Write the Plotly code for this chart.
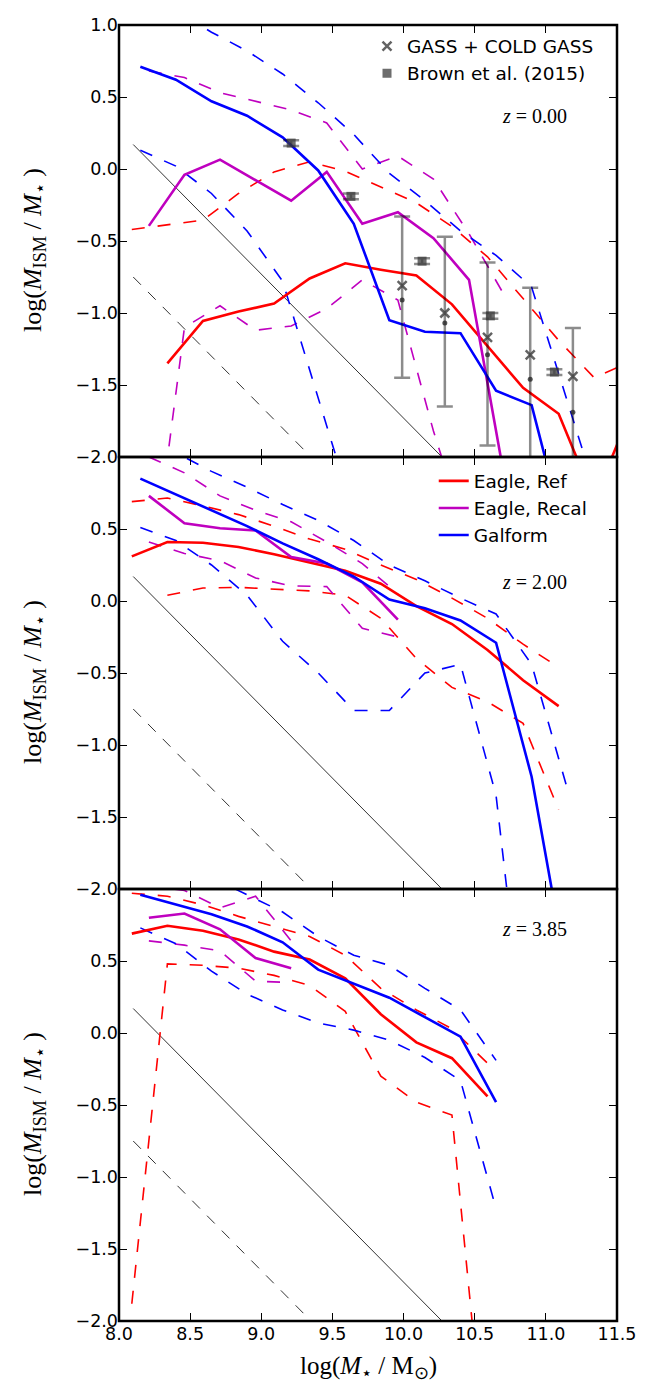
import plotly.graph_objects as go
from plotly.subplots import make_subplots

RED = "#ff0000"
MAG = "#bf00bf"
BLUE = "#0000ff"

# ---------------- z = 0.00 ----------------
ref_x0 = [8.34, 8.59, 8.84, 9.09, 9.34, 9.59, 9.84, 10.09, 10.34, 10.59, 10.84, 11.09, 11.34, 11.59]
ref_med0 = [-1.35, -1.055, -0.99, -0.935, -0.76, -0.655, -0.70, -0.74, -0.94, -1.23, -1.52, -1.70, -2.3, -1.7]
ref_pc_x0 = [8.09, 8.34, 8.59, 8.84, 9.09, 9.34, 9.59, 9.84, 10.09, 10.34, 10.59, 10.84, 11.09, 11.34, 11.59]
ref_hi0 = [-0.42, -0.385, -0.355, -0.17, -0.02, 0.05, -0.015, -0.125, -0.235, -0.40, -0.61, -0.90, -1.19, -1.45, -1.34]

rec_x0 = [8.21, 8.46, 8.71, 8.96, 9.21, 9.46, 9.71, 9.96, 10.21, 10.46, 10.71]
rec_med0 = [-0.395, -0.04, 0.065, -0.08, -0.22, -0.02, -0.38, -0.30, -0.48, -0.77, -2.15]
rec_hi0 = [0.68, 0.635, 0.53, 0.47, 0.41, 0.32, 0.0, 0.09, -0.07, -0.45, -0.88]
rec_lo0 = [-3.0, -1.1, -0.95, -1.12, -1.09, -0.97, -0.77, -0.91, -1.82, -2.6, -3.2]

gal_x0 = [8.15, 8.4, 8.65, 8.9, 9.15, 9.4, 9.65, 9.9, 10.15, 10.4, 10.65, 10.9, 11.15]
gal_med0 = [0.71, 0.62, 0.47, 0.37, 0.22, -0.01, -0.38, -1.05, -1.13, -1.14, -1.54, -1.64, -2.6]
gal_hi_x0 = [8.15, 8.4, 8.65, 8.9, 9.15, 9.4, 9.65, 9.9, 10.15, 10.4, 10.65, 10.9, 11.15, 11.4]
gal_hi0 = [1.25, 1.1, 0.95, 0.82, 0.66, 0.46, 0.24, -0.03, -0.22, -0.43, -0.60, -0.82, -1.6, -2.4]
gal_lo_x0 = [8.15, 8.4, 8.65, 8.9, 9.15, 9.4, 9.65]
gal_lo0 = [0.13, 0.02, -0.17, -0.43, -0.78, -1.6, -2.4]

# observations (z = 0)
gass_x = [9.99, 10.29, 10.59, 10.89, 11.19]
gass_mean = [-0.81, -1.00, -1.17, -1.29, -1.44]
gass_median = [-0.91, -1.07, -1.29, -1.46, -1.69]
gass_top = [-0.33, -0.47, -0.65, -0.825, -1.105]
gass_bottom = [-1.45, -1.65, -1.92, -2.6, -2.8]
brown_x = [9.21, 9.63, 10.13, 10.61, 11.06]
brown_y = [0.18, -0.19, -0.64, -1.02, -1.41]
brown_err = [0.02, 0.02, 0.02, 0.02, 0.02]

# ---------------- z = 2.00 ----------------
ref_x2 = [8.09, 8.34, 8.59, 8.84, 9.09, 9.34, 9.59, 9.84, 10.09, 10.34, 10.59, 10.84, 11.09]
ref_med2 = [0.31, 0.41, 0.405, 0.375, 0.325, 0.27, 0.21, 0.12, -0.035, -0.16, -0.34, -0.55, -0.73]
ref_hi2 = [0.69, 0.715, 0.66, 0.60, 0.52, 0.43, 0.36, 0.25, 0.15, 0.02, -0.12, -0.30, -0.46]
ref_lo_x2 = [8.34, 8.59, 8.84, 9.09, 9.34, 9.59, 9.84, 10.09, 10.34, 10.59, 10.84, 11.09]
ref_lo2 = [0.04, 0.09, 0.095, 0.085, 0.07, 0.04, -0.12, -0.40, -0.60, -0.70, -0.85, -1.45]

rec_x2 = [8.21, 8.46, 8.71, 8.96, 9.21, 9.46, 9.71, 9.96]
rec_med2 = [0.73, 0.54, 0.505, 0.49, 0.305, 0.26, 0.13, -0.13]
rec_hi2 = [1.0, 0.89, 0.73, 0.63, 0.55, 0.41, 0.26, 0.05]
rec_lo2 = [0.41, 0.33, 0.28, 0.16, 0.105, 0.10, -0.19, -0.25]

gal_x2 = [8.15, 8.4, 8.65, 8.9, 9.15, 9.4, 9.65, 9.9, 10.15, 10.4, 10.65, 10.9, 11.15]
gal_med2 = [0.85, 0.74, 0.63, 0.52, 0.40, 0.29, 0.17, 0.01, -0.05, -0.135, -0.29, -1.22, -2.6]
gal_hi2 = [1.15, 1.03, 0.90, 0.79, 0.67, 0.56, 0.42, 0.25, 0.14, 0.02, -0.09, -0.44, -1.30]
gal_lo_x2 = [8.15, 8.4, 8.65, 8.9, 9.15, 9.4, 9.65, 9.9, 10.15, 10.4, 10.65, 10.9]
gal_lo2 = [0.51, 0.42, 0.25, 0.04, -0.28, -0.50, -0.76, -0.76, -0.50, -0.44, -1.35, -3.5]

# ---------------- z = 3.85 ----------------
ref_x4 = [8.09, 8.34, 8.59, 8.84, 9.09, 9.34, 9.59, 9.84, 10.09, 10.34, 10.59]
ref_med4 = [0.69, 0.745, 0.71, 0.65, 0.565, 0.51, 0.38, 0.13, -0.065, -0.175, -0.44]
ref_hi4 = [0.97, 0.95, 0.89, 0.81, 0.74, 0.67, 0.54, 0.31, 0.16, 0.03, -0.21]
ref_lo4 = [-1.88, 0.48, 0.47, 0.45, 0.40, 0.33, 0.15, -0.30, -0.48, -0.57, -3.1]

rec_x4 = [8.21, 8.46, 8.71, 8.96, 9.21]
rec_med4 = [0.80, 0.83, 0.72, 0.52, 0.45]
rec_hi4 = [1.02, 0.99, 0.87, 0.95, 0.64]
rec_lo4 = [0.64, 0.61, 0.57, 0.36, 0.35]

gal_x4 = [8.15, 8.4, 8.65, 8.9, 9.15, 9.4, 9.65, 9.9, 10.15, 10.4, 10.65]
gal_med4 = [0.96, 0.895, 0.825, 0.74, 0.63, 0.44, 0.34, 0.245, 0.11, -0.025, -0.48]
gal_hi_x4 = [8.65, 8.9, 9.15, 9.4, 9.65, 9.9, 10.15, 10.4, 10.65]
gal_hi4 = [1.08, 0.96, 0.84, 0.67, 0.54, 0.47, 0.31, 0.16, -0.19]
gal_lo4 = [0.73, 0.62, 0.43, 0.27, 0.16, 0.07, 0.02, -0.05, -0.17, -0.33, -1.22]

# resolution-limit guide lines (same in every panel)
guide_x = [8.1, 10.4]
guide_solid = [0.17, -2.13]
guide_dash_x = [8.1, 9.3]
guide_dash = [-0.75, -1.95]

z_labels = ["0.00", "2.00", "3.85"]
z_label_y = [0.37, 0.13, 0.72]

fig = make_subplots(rows=3, cols=1, shared_xaxes=True, vertical_spacing=0)

DASH = "13px,13px"


def line(x, y, row, color, width, dash="solid", name=None, legend=None):
    fig.add_trace(go.Scatter(
        x=x, y=y, mode="lines",
        line=dict(color=color, width=width, dash=dash),
        name=name, showlegend=name is not None,
        legend=legend, legendgroup=name, hoverinfo="skip"), row=row, col=1)


panels = [
    dict(ref=(ref_x0, ref_med0), ref_hi=(ref_pc_x0, ref_hi0), ref_lo=None,
         rec=(rec_x0, rec_med0), rec_hi=(rec_x0, rec_hi0), rec_lo=(rec_x0, rec_lo0),
         gal=(gal_x0, gal_med0), gal_hi=(gal_hi_x0, gal_hi0), gal_lo=(gal_lo_x0, gal_lo0)),
    dict(ref=(ref_x2, ref_med2), ref_hi=(ref_x2, ref_hi2), ref_lo=(ref_lo_x2, ref_lo2),
         rec=(rec_x2, rec_med2), rec_hi=(rec_x2, rec_hi2), rec_lo=(rec_x2, rec_lo2),
         gal=(gal_x2, gal_med2), gal_hi=(gal_x2, gal_hi2), gal_lo=(gal_lo_x2, gal_lo2)),
    dict(ref=(ref_x4, ref_med4), ref_hi=(ref_x4, ref_hi4), ref_lo=(ref_x4, ref_lo4),
         rec=(rec_x4, rec_med4), rec_hi=(rec_x4, rec_hi4), rec_lo=(rec_x4, rec_lo4),
         gal=(gal_x4, gal_med4), gal_hi=(gal_hi_x4, gal_hi4), gal_lo=(gal_x4, gal_lo4)),
]

for i, p in enumerate(panels):
    row = i + 1
    line(guide_x, guide_solid, row, "#333333", 1)
    line(guide_dash_x, guide_dash, row, "#333333", 1, "11px,10px")
    for key, col in (("ref", RED), ("rec", MAG), ("gal", BLUE)):
        for k in (key + "_hi", key + "_lo"):
            if p[k] is not None:
                line(p[k][0], p[k][1], row, col, 1.6, DASH)
    names = {"ref": "Eagle, Ref", "rec": "Eagle, Recal", "gal": "Galform"}
    for key, col in (("ref", RED), ("rec", MAG), ("gal", BLUE)):
        line(p[key][0], p[key][1], row, col, 2.6,
             name=names[key] if row == 2 else None, legend="legend2")

# observations in top panel
fig.add_trace(go.Scatter(
    x=gass_x, y=gass_mean, mode="markers", name="GASS + COLD GASS",
    legend="legend", legendgroup="gass",
    marker=dict(symbol="x-thin", size=9, color="rgba(60,60,60,0.8)",
                line=dict(width=2.5, color="rgba(60,60,60,0.8)")),
    error_y=dict(type="data", symmetric=False,
                 array=[t - m for t, m in zip(gass_top, gass_mean)],
                 arrayminus=[m - b for m, b in zip(gass_mean, gass_bottom)],
                 color="rgba(0,0,0,0.45)", thickness=2.5, width=8),
    hoverinfo="skip"), row=1, col=1)
fig.add_trace(go.Scatter(
    x=gass_x, y=gass_median, mode="markers", showlegend=False,
    marker=dict(symbol="circle", size=5, color="rgba(40,40,40,0.8)"),
    hoverinfo="skip"), row=1, col=1)
fig.add_trace(go.Scatter(
    x=brown_x, y=brown_y, mode="markers", name="Brown et al. (2015)",
    legend="legend", legendgroup="brown",
    marker=dict(symbol="square", size=9, color="rgba(60,60,60,0.75)"),
    error_y=dict(type="data", array=brown_err, color="rgba(0,0,0,0.45)",
                 thickness=2.5, width=8),
    hoverinfo="skip"), row=1, col=1)

tick_font = dict(family="DejaVu Sans", size=17.5, color="black")
yvals = [-2.0, -1.5, -1.0, -0.5, 0.0, 0.5, 1.0]


def fmt(v):
    s = f"{abs(v):.1f}"
    return ("\u2212" + s) if v < 0 else s


shapes = []
for r in (1, 2, 3):
    ytext = [fmt(v) for v in yvals]
    if r > 1:
        ytext[-1] = ""
    fig.update_yaxes(row=r, col=1, range=[-2, 1], tickvals=yvals, ticktext=ytext,
                     ticks="inside", ticklen=8, tickwidth=1.3, tickcolor="black",
                     showline=False, mirror="ticks", ticklabeloverflow="allow",
                     showgrid=False, zeroline=False, tickfont=tick_font)
    xv = [8.0 + 0.5 * k for k in range(8)]
    fig.update_xaxes(row=r, col=1, range=[8, 11.5], tickvals=xv,
                     ticktext=[f"{v:.1f}" for v in xv], showticklabels=(r == 3),
                     ticks="inside", ticklen=8, tickwidth=1.3, tickcolor="black",
                     showline=False, mirror="ticks", ticklabeloverflow="allow",
                     showgrid=False, zeroline=False, tickfont=tick_font)
    xr = "x domain" if r == 1 else f"x{r} domain"
    yr = "y domain" if r == 1 else f"y{r} domain"
    shapes.append(dict(type="rect", xref=xr, yref=yr, x0=0, x1=1, y0=0, y1=1,
                       line=dict(color="black", width=2.5), layer="above"))

serif = "Liberation Serif"
ylab = "log(<i>M</i><sub>ISM</sub> / <i>M</i><sub>\u22c6</sub> )"
annotations = []
for r in (1, 2, 3):
    yref = "y domain" if r == 1 else f"y{r} domain"
    annotations.append(dict(text=ylab, xref="paper", x=-0.172, yref=yref, y=0.48,
                            textangle=-90, showarrow=False, xanchor="center",
                            yanchor="middle", font=dict(family=serif, size=26, color="black")))
    annotations.append(dict(text=f"<i>z</i> = {z_labels[r-1]}", xref="x" if r == 1 else f"x{r}",
                            yref="y" if r == 1 else f"y{r}", x=10.92, y=z_label_y[r-1],
                            showarrow=False, xanchor="center", yanchor="middle",
                            font=dict(family=serif, size=20, color="black")))
annotations.append(dict(text="log(<i>M</i><sub>\u22c6</sub> / M<sub>\u2299</sub>)",
                        xref="paper", x=0.5, yref="paper", y=-0.036, yanchor="middle",
                        showarrow=False, font=dict(family=serif, size=25, color="black")))

fig.update_layout(
    width=647, height=1383,
    margin=dict(l=111, r=38, t=7, b=70),
    paper_bgcolor="white", plot_bgcolor="white",
    annotations=annotations, shapes=shapes,
    legend=dict(x=0.498, y=0.998, xanchor="left", yanchor="top",
                bgcolor="rgba(0,0,0,0)", font=dict(family="DejaVu Sans", size=18.5, color="black"),
                traceorder="grouped", tracegroupgap=0),
    legend2=dict(x=0.632, y=0.6625, xanchor="left", yanchor="top",
                 bgcolor="rgba(0,0,0,0)", font=dict(family="DejaVu Sans", size=18.5, color="black"),
                 traceorder="grouped", tracegroupgap=0),
)

fig.write_html("out.html")
